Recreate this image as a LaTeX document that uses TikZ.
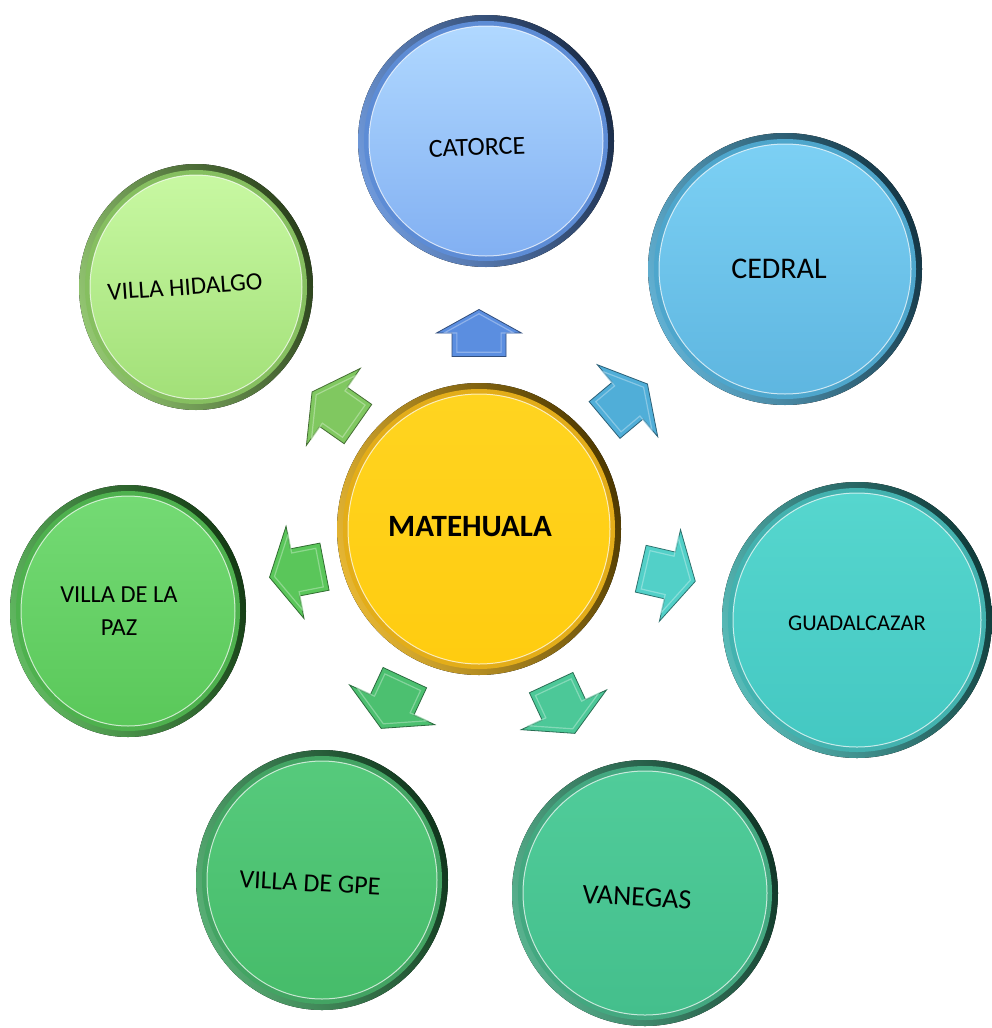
\documentclass[tikz,border=0pt]{standalone}
\usepackage{fontspec}
\setmainfont{Carlito}
\usetikzlibrary{shapes.geometric}
\definecolor{catrim}{HTML}{4B7FD0}\definecolor{cattop}{HTML}{B0D8FF}\definecolor{catbot}{HTML}{82B0F2}
\definecolor{cedrim}{HTML}{3A9CC6}\definecolor{cedtop}{HTML}{7CD0F4}\definecolor{cedbot}{HTML}{5EB6E0}
\definecolor{guarim}{HTML}{2EAAA6}\definecolor{guatop}{HTML}{56D6CE}\definecolor{guabot}{HTML}{44C8C2}
\definecolor{vanrim}{HTML}{2E9E72}\definecolor{vantop}{HTML}{50CC9A}\definecolor{vanbot}{HTML}{44BF8C}
\definecolor{gperim}{HTML}{2E9A52}\definecolor{gpetop}{HTML}{56CA7C}\definecolor{gpebot}{HTML}{46BC6A}
\definecolor{pazrim}{HTML}{3AA83A}\definecolor{paztop}{HTML}{74DA74}\definecolor{pazbot}{HTML}{5AC85A}
\definecolor{hidrim}{HTML}{78B84E}\definecolor{hidtop}{HTML}{C8F8A2}\definecolor{hidbot}{HTML}{A2E078}
\definecolor{matrim}{HTML}{E0A400}\definecolor{mattop}{HTML}{FFD420}\definecolor{matbot}{HTML}{FFCC10}
\definecolor{arrcat}{HTML}{5B8EE0}\definecolor{arrced}{HTML}{50AED8}\definecolor{arrgua}{HTML}{52D0C8}
\definecolor{arrvan}{HTML}{4CC898}\definecolor{arrgpe}{HTML}{4CC070}\definecolor{arrpaz}{HTML}{5AC65A}
\definecolor{arrhid}{HTML}{80C860}
\tikzset{
  face/.style={ellipse, inner sep=0pt, align=center, text=black},
  pics/bigarrow/.style={code={
    \filldraw[fill=#1, draw=#1!55!black, line width=0.8pt, line join=miter]
      (-28,-24) -- (2,-24) -- (2,-47) -- (28,0) -- (2,47) -- (2,24) -- (-28,24) -- cycle;
    \draw[#1!55!white, line width=1.2pt, opacity=0.7, scale=0.82]
      (-28,-24) -- (2,-24) -- (2,-47) -- (28,0) -- (2,47) -- (2,24) -- (-28,24) -- cycle;
  }},
  pics/smallarrow/.style={code={
    \filldraw[fill=#1, draw=#1!55!black, line width=0.8pt, line join=miter]
      (-23.5,-27) -- (0,-27) -- (0,-42.5) -- (23.5,0) -- (0,42.5) -- (0,27) -- (-23.5,27) -- cycle;
    \draw[#1!55!white, line width=1.2pt, opacity=0.7, scale=0.82]
      (-23.5,-27) -- (0,-27) -- (0,-42.5) -- (23.5,0) -- (0,42.5) -- (0,27) -- (-23.5,27) -- cycle;
  }},
}
% shifted text: #1 dx, #2 dy, #3 text
\newcommand\movetext[3]{\hspace*{#1}\hspace*{#1}\raisebox{#2}[\height][\depth]{#3}}
% #1 name, #2 position, #3 rx, #4 ry, #5 colour prefix, #6 node options, #7 text
\newcommand\disc[7]{%
  \coordinate (#1c) at (#2);
  \fill[left color=#5rim!80!white, right color=#5rim!35!black, shading angle=110] (#1c) ellipse [x radius=#3, y radius=#4];
  \fill[#5rim!90!white] (#1c) ellipse [x radius=#3-6, y radius=#4-6];
  \node[face, minimum width=2*#3-22, minimum height=2*#4-22, top color=#5top, bottom color=#5bot,
        draw=white, draw opacity=0.7, line width=1pt, #6] (#1) at (#1c) {#7};
}
\begin{document}
\begin{tikzpicture}[x=1pt,y=1pt]
\useasboundingbox (0,-1028) rectangle (992,0);
\fill[white] (0,-1028) rectangle (992,0);
\disc{cat}{486,-141}{128}{126}{cat}{font=\fontsize{26}{30}\selectfont}{\movetext{-9pt}{-6pt}{\rotatebox{2}{CATORCE}}}
\disc{ced}{785,-269}{137}{136}{ced}{font=\fontsize{30}{34}\selectfont}{\movetext{-6pt}{0pt}{CEDRAL}}
\disc{gua}{857,-620}{135}{138}{gua}{font=\fontsize{22.5}{26}\selectfont}{\movetext{0pt}{-3pt}{GUADALCAZAR}}
\disc{van}{645,-893}{133}{133}{van}{font=\fontsize{28}{32}\selectfont}{\movetext{-8pt}{-4pt}{\rotatebox{-3}{VANEGAS}}}
\disc{gpe}{322,-880}{126}{130}{gpe}{font=\fontsize{26}{30}\selectfont}{\movetext{-12pt}{-3pt}{\rotatebox{-3}{VILLA DE GPE}}}
\disc{paz}{128,-611}{118}{126}{paz}{font=\fontsize{24.5}{33}\selectfont}{\hspace*{-18pt}VILLA DE LA\\\hspace*{-18pt}PAZ}
\disc{hid}{196,-287}{117}{123}{hid}{font=\fontsize{25}{30}\selectfont}{\movetext{-11pt}{0pt}{\rotatebox{4}{VILLA HIDALGO}}}
\disc{mat}{479,-529}{142}{146}{mat}{font=\bfseries\fontsize{31}{35}\selectfont}{\movetext{-9pt}{2pt}{MATEHUALA}}
\pic[rotate=90]  at (479,-333) {smallarrow=arrcat};
\pic[rotate=40]  at (626,-402) {bigarrow=arrced};
\pic[rotate=-13] at (668,-575) {bigarrow=arrgua};
\pic[rotate=-65] at (563,-708) {bigarrow=arrvan};
\pic[rotate=-115] at (393,-703) {bigarrow=arrgpe};
\pic[rotate=191] at (297,-572) {bigarrow=arrpaz};
\pic[rotate=145] at (335,-408) {bigarrow=arrhid};
\end{tikzpicture}
\end{document}
